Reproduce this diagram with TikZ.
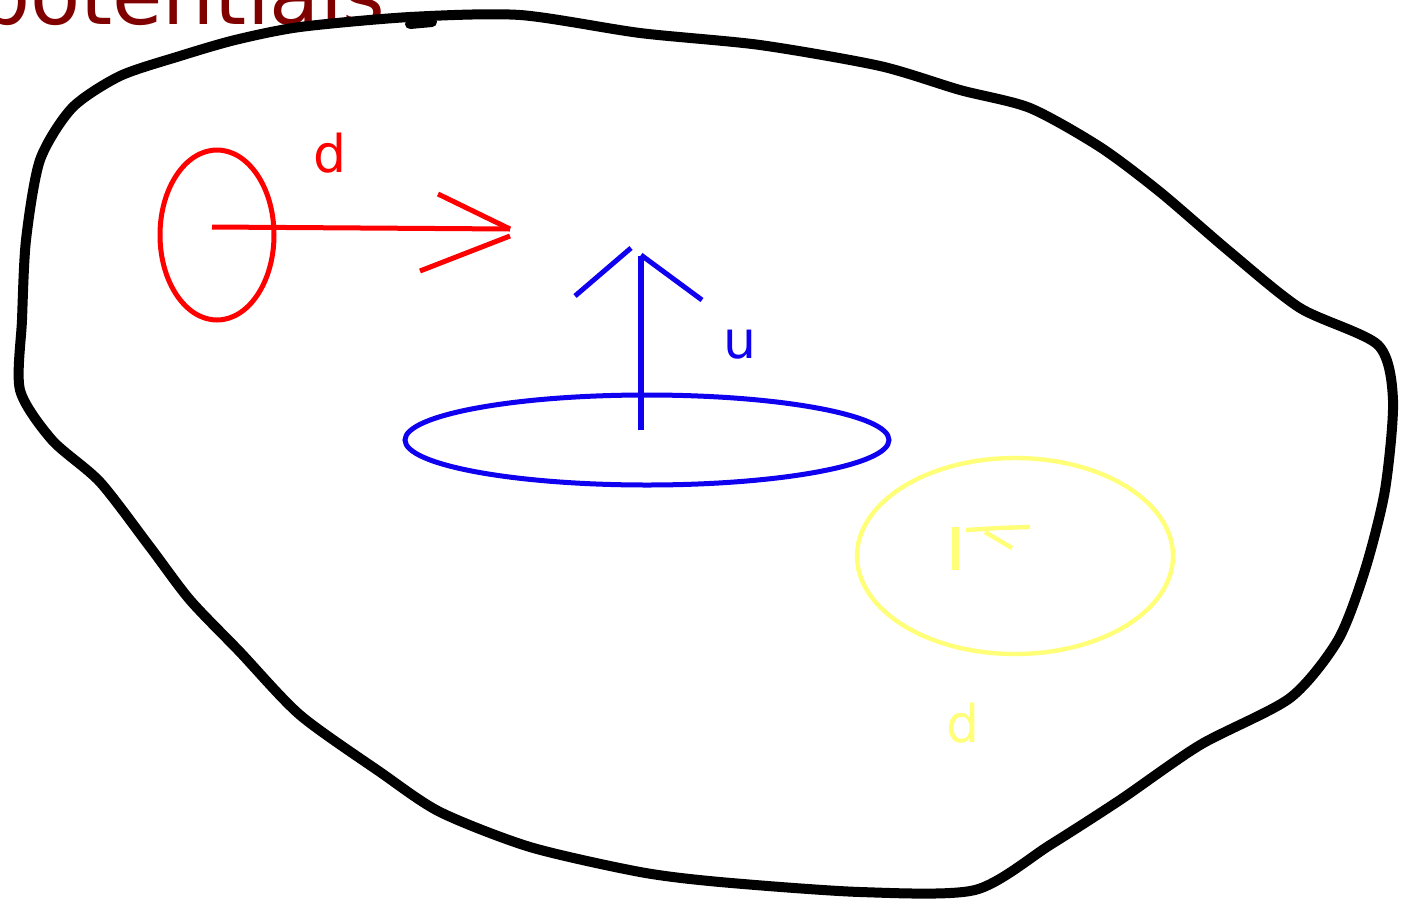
\documentclass[tikz,border=0pt]{standalone}
\usepackage{fontspec}
\setmainfont{DejaVu Sans}
\definecolor{dred}{RGB}{128,0,0}
\definecolor{myyellow}{RGB}{255,255,120}
\definecolor{myred}{RGB}{255,0,0}
\definecolor{myblue}{RGB}{16,0,240}
\begin{document}
\begin{tikzpicture}[x=0.5pt,y=-0.5pt,
  blob/.style={line width=5pt,line join=round,line cap=round},
  redline/.style={myred,line width=2.5pt},
  blueline/.style={myblue,line width=2.5pt},
  yelline/.style={myyellow,line width=2.2pt},
  lbl/.style={inner sep=0pt,font=\fontsize{26}{30}\selectfont}]
\useasboundingbox (0,0) rectangle (1419,905);
\fill[white] (0,0) rectangle (1419,905);
% title
\node[lbl,dred,anchor=base east,font=\fontsize{41}{44}\selectfont] (title) at (386,24) {potentials};
% outline
\draw[blob] plot[smooth cycle,tension=0.45] coordinates {
 (235,40) (300,27) (410,17) (520,15) (640,33) (760,45) (880,66) (960,90) (1030,108)
 (1100,147) (1160,192) (1230,252) (1300,308) (1378,345) (1393,400) (1385,490)
 (1365,570) (1338,640) (1290,698) (1200,745) (1120,800) (1050,845) (975,890)
 (860,892) (720,882) (640,872) (530,847) (440,812) (380,772) (300,715) (240,652)
 (190,600) (150,547) (100,482) (52,440) (20,390) (22,320) (26,240) (40,160)
 (72,108) (120,76) (180,56)};
\draw[line width=5pt,line cap=round] (410,24) -- (432,22);
% red part
\draw[redline] (217,235) ellipse [x radius=57, y radius=85];
\coordinate (rs) at (212,227);
\coordinate (re) at (510,229);
\draw[redline] (rs) -- (re);
\draw[redline] (438,194) -- (re) (420,271) -- (510,236);
\node[lbl,myred,anchor=base] (dr) at (330,172) {d};
% blue part
\draw[blueline] (647,440) ellipse [x radius=242, y radius=45];
\coordinate (bs) at (641,430);
\coordinate (be) at (641,256);
\draw[blueline,line width=3pt] (bs) -- (be);
\draw[blueline] (575,296) -- (631,248) (641,255) -- (702,300);
\node[lbl,myblue,anchor=base] (u) at (740,358) {u};
% yellow part
\draw[yelline] (1015,556) ellipse [x radius=158, y radius=98];
\draw[yelline,line width=3.5pt] (955,527) -- (955,570);
\draw[yelline] (966,530) -- (998,528) -- (1030,527) (985,532) -- (1012,548);
\node[lbl,myyellow,anchor=base] (dy) at (963,742) {d};
\end{tikzpicture}
\end{document}
